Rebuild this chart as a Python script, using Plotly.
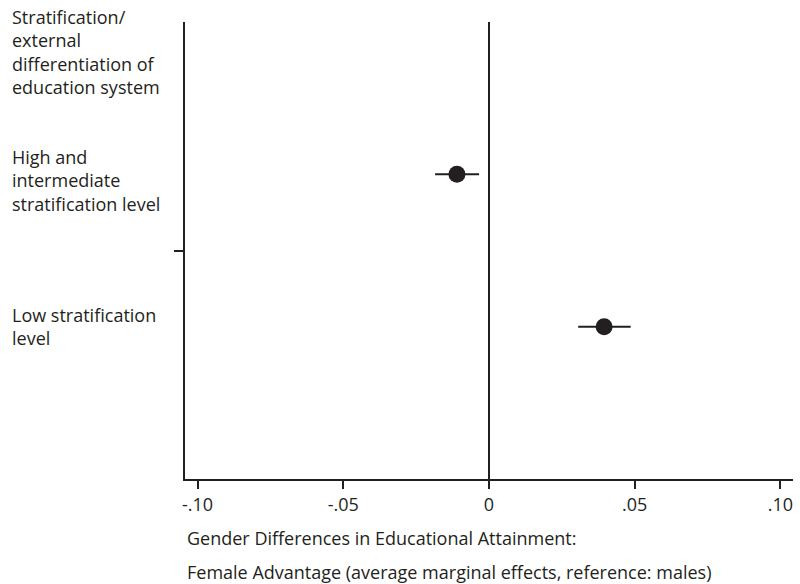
import plotly.graph_objects as go

# Average marginal effects of being female, by stratification of the education system
groups = ["High and<br>intermediate<br>stratification level", "Low stratification<br>level"]
group_pos = [1, 2]
effects = [-0.011, 0.0395]
ci_low = [-0.0185, 0.0306]
ci_high = [-0.0034, 0.0486]

x_ticks = [-0.10, -0.05, 0, 0.05, 0.10]
x_tick_text = ["-.10", "-.05", "0", ".05", ".10"]

header = "Stratification/<br>external<br>differentiation of<br>education system"
x_title_1 = "Gender Differences in Educational Attainment:"
x_title_2 = "Female Advantage (average marginal effects, reference: males)"

INK = "#231f20"
FONT = "'Open Sans', 'Noto Sans', sans-serif"
FS = 18

fig = go.Figure()

fig.add_trace(go.Scatter(
    x=effects,
    y=group_pos,
    mode="markers",
    marker=dict(size=17, color=INK),
    error_x=dict(
        type="data",
        symmetric=False,
        array=[h - e for h, e in zip(ci_high, effects)],
        arrayminus=[e - l for e, l in zip(effects, ci_low)],
        color=INK,
        thickness=2,
        width=0,
    ),
    showlegend=False,
    hoverinfo="skip",
))

# reference line at zero
fig.add_shape(type="line", xref="x", yref="paper", x0=0, x1=0, y0=0, y1=1,
              line=dict(color=INK, width=2), layer="below")

annotations = []
for label, pos in zip(groups, group_pos):
    annotations.append(dict(
        text=label, xref="paper", x=-0.2878, xanchor="left",
        yref="y", y=pos, yanchor="middle", yshift=-6 if pos == 1 else 0,
        align="left", showarrow=False,
        font=dict(family=FONT, size=FS, color=INK),
    ))

annotations.append(dict(
    text=header, xref="paper", x=-0.2878, xanchor="left",
    yref="y", y=0.2, yanchor="middle", align="left", showarrow=False,
    font=dict(family=FONT, size=FS, color=INK),
))
annotations.append(dict(
    text=x_title_1, xref="paper", x=0, xshift=0, xanchor="left",
    yref="paper", y=(584 - 538 - 105) / 457, yanchor="middle", showarrow=False,
    font=dict(family=FONT, size=FS, color=INK),
))
annotations.append(dict(
    text=x_title_2, xref="paper", x=0, xshift=0, xanchor="left",
    yref="paper", y=(584 - 572 - 105) / 457, yanchor="middle", showarrow=False,
    font=dict(family=FONT, size=FS, color=INK),
))

fig.update_layout(
    width=800, height=584,
    margin=dict(l=185, r=7, t=22, b=105),
    paper_bgcolor="white", plot_bgcolor="white",
    font=dict(family=FONT, size=FS, color=INK),
    annotations=annotations,
    xaxis=dict(
        range=[-0.1043, 0.1043],
        tickvals=x_ticks, ticktext=x_tick_text,
        ticks="outside", ticklen=8, tickwidth=2, tickcolor=INK,
        showline=True, linewidth=2, linecolor=INK,
        showgrid=False, zeroline=False,
        tickfont=dict(family=FONT, size=FS, color=INK),
    ),
    yaxis=dict(
        range=[3, 0],
        tickvals=[1.5], ticktext=[""],
        ticks="outside", ticklen=9, tickwidth=2, tickcolor=INK,
        showline=True, linewidth=2, linecolor=INK,
        showgrid=False, zeroline=False, showticklabels=False,
    ),
)

fig.write_html("out.html")
